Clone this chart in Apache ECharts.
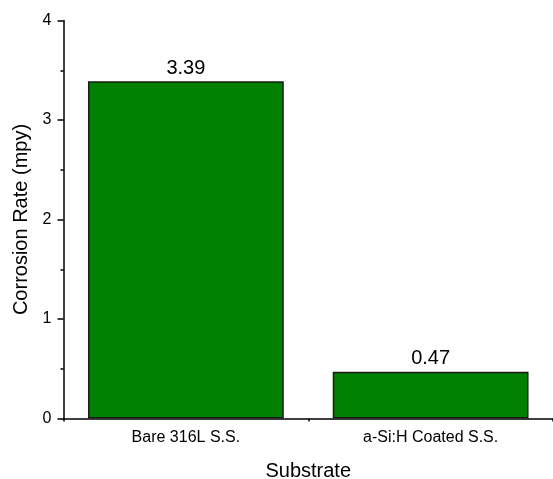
<!DOCTYPE html>
<html><head><meta charset="utf-8">
<script src="https://cdn.jsdelivr.net/npm/echarts@6/dist/echarts.min.js"></script>
<style>html,body{margin:0;padding:0;background:#fff;overflow:hidden}#c{width:553px;height:479px}</style>
</head><body><div id="c"></div>
<script>
const categories = ['Bare 316L S.S.', 'a-Si:H Coated S.S.'];
const corrosionRate = [3.39, 0.47];
const yTicks = [0, 1, 2, 3, 4];

const font = '"Liberation Sans", Arial, sans-serif';
const chart = echarts.init(document.getElementById('c'), null, {renderer: 'canvas'});
chart.setOption({
  animation: false,
  grid: {left: 63.5, right: 0, top: 20.5, bottom: 60.5, containLabel: false, outerBoundsMode: 'none'},
  xAxis: [{
    type: 'category', data: categories,
    name: 'Substrate', nameLocation: 'middle', nameGap: 43,
    nameTextStyle: {fontFamily: font, fontSize: 20, color: '#000'},
    axisLine: {lineStyle: {color: '#000', width: 1.5}},
    axisTick: {alignWithLabel: true, length: 6, lineStyle: {color: '#000', width: 1.5}},
    axisLabel: {fontFamily: font, fontSize: 16, color: '#000', margin: 11}
  }, {
    type: 'category', data: categories, position: 'bottom',
    axisLine: {show: false},
    axisTick: {show: true, length: 3, lineStyle: {color: '#000', width: 1.5}},
    axisLabel: {show: false}
  }],
  yAxis: {
    type: 'value', min: yTicks[0], max: yTicks[yTicks.length - 1], interval: 1,
    name: 'Corrosion Rate (mpy)', nameLocation: 'middle', nameGap: 30, nameRotate: 90,
    nameTextStyle: {fontFamily: font, fontSize: 20, color: '#000'},
    axisLine: {show: true, lineStyle: {color: '#000', width: 1.5}},
    axisTick: {show: true, length: 6, lineStyle: {color: '#000', width: 1.5}},
    minorTick: {show: true, splitNumber: 2, length: 3, lineStyle: {color: '#000', width: 1.5}},
    splitLine: {show: false},
    axisLabel: {fontFamily: font, fontSize: 16, color: '#000', margin: 12}
  },
  series: [{
    type: 'bar', data: corrosionRate, barWidth: '80%', xAxisIndex: 0,
    itemStyle: {color: '#008000', borderColor: '#1a1a1a', borderWidth: 1.5},
    label: {show: true, position: 'top', distance: 3, fontFamily: font, fontSize: 20, color: '#000',
      formatter: p => p.value.toFixed(2)}
  }]
});
</script></body></html>
